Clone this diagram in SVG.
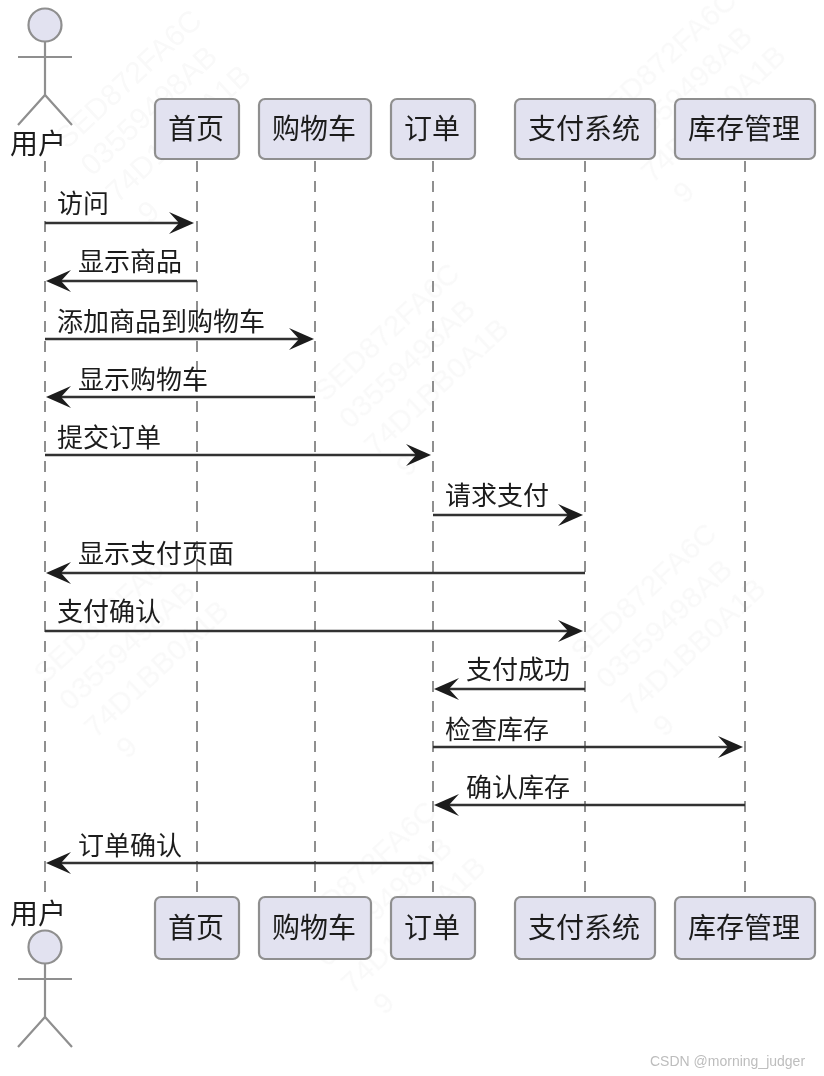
<svg xmlns="http://www.w3.org/2000/svg" width="824" height="1076" viewBox="0 0 824 1076">
<style>
text{font-family:"Noto Sans CJK SC","Liberation Sans",sans-serif}
.n{font-size:28px;fill:#1c1c1c;text-anchor:middle}
.m{font-size:26px;fill:#1c1c1c}
.box{fill:#e2e2f0;stroke:#8f8f8f;stroke-width:2.2}
.life{stroke:#8f8f8f;stroke-width:2;stroke-dasharray:11 9;fill:none}
.act{fill:#e2e2f0;stroke:#8f8f8f;stroke-width:2.2}
.lim{stroke:#8f8f8f;stroke-width:2.2;fill:none}
.c{stroke:#333;stroke-width:2.6;fill:none}
.wm{font-size:30px;fill:#f9f9f9;font-family:"Liberation Sans",sans-serif}
</style>
<defs>
<filter id="soft" x="0" y="0" width="824" height="1076" filterUnits="userSpaceOnUse" primitiveUnits="userSpaceOnUse"><feGaussianBlur stdDeviation="0.6"/></filter>
<path id="ah" d="M-25 -11L0 0L-25 11L-15 0Z" fill="#1c1c1c"/>
<path id="al" d="M25 -11L0 0L25 11L15 0Z" fill="#1c1c1c"/>
<g id="mark">
<text class="wm" x="0" y="0">SED872FA6C</text>
<text class="wm" x="0" y="37">03559498AB</text>
<text class="wm" x="0" y="74">74D1BB0A1B</text>
<text class="wm" x="9" y="111">9</text>
</g>
</defs>
<rect width="824" height="1076" fill="#fff"/>
<g filter="url(#soft)">
<g id="watermark">
<use href="#mark" transform="translate(67 150) rotate(-43)"/>
<use href="#mark" transform="translate(602 130) rotate(-43)"/>
<use href="#mark" transform="translate(325 403) rotate(-43)"/>
<use href="#mark" transform="translate(582 663) rotate(-43)"/>
<use href="#mark" transform="translate(45 685) rotate(-43)"/>
<use href="#mark" transform="translate(302 941) rotate(-43)"/>
</g>
<g id="lifelines">
<path class="life" d="M45 161V895"/>
<path class="life" d="M197 161V895"/>
<path class="life" d="M315 161V895"/>
<path class="life" d="M433 161V895"/>
<path class="life" d="M585 161V895"/>
<path class="life" d="M745 161V895"/>
</g>
<g id="connectors">
<path class="c" d="M45 223H187"/><use href="#ah" transform="translate(194 223)"/>
<path class="c" d="M197 281H53"/><use href="#al" transform="translate(46 281)"/>
<path class="c" d="M45 339H307"/><use href="#ah" transform="translate(314 339)"/>
<path class="c" d="M315 397H53"/><use href="#al" transform="translate(46 397)"/>
<path class="c" d="M45 455H424"/><use href="#ah" transform="translate(431 455)"/>
<path class="c" d="M433 515H576"/><use href="#ah" transform="translate(583 515)"/>
<path class="c" d="M585 573H53"/><use href="#al" transform="translate(46 573)"/>
<path class="c" d="M45 631H576"/><use href="#ah" transform="translate(583 631)"/>
<path class="c" d="M585 689H441"/><use href="#al" transform="translate(434 689)"/>
<path class="c" d="M433 747H736"/><use href="#ah" transform="translate(743 747)"/>
<path class="c" d="M745 805H441"/><use href="#al" transform="translate(434 805)"/>
<path class="c" d="M433 863H53"/><use href="#al" transform="translate(46 863)"/>
</g>
<g id="labels">
<text class="m" x="57" y="213">访问</text>
<text class="m" x="78" y="271">显示商品</text>
<text class="m" x="57" y="331">添加商品到购物车</text>
<text class="m" x="78" y="389">显示购物车</text>
<text class="m" x="57" y="447">提交订单</text>
<text class="m" x="445" y="505">请求支付</text>
<text class="m" x="78" y="563">显示支付页面</text>
<text class="m" x="57" y="621">支付确认</text>
<text class="m" x="466" y="679">支付成功</text>
<text class="m" x="445" y="739">检查库存</text>
<text class="m" x="466" y="797">确认库存</text>
<text class="m" x="78" y="855">订单确认</text>
</g>
<g id="actor-top">
<circle class="act" cx="45" cy="25" r="16.5"/>
<path class="lim" d="M45 41V95M18 57H72M18 125L45 95L72 125"/>
<text class="n" x="38" y="154">用户</text>
</g>
<g id="actor-bottom">
<text class="n" x="38" y="924">用户</text>
<circle class="act" cx="45" cy="947" r="16.5"/>
<path class="lim" d="M45 963V1017M18 979H72M18 1047L45 1017L72 1047"/>
</g>
<g id="node-home-top"><rect class="box" x="155" y="99" width="84" height="60" rx="6"/><text class="n" x="196" y="139">首页</text></g>
<g id="node-cart-top"><rect class="box" x="259" y="99" width="112" height="60" rx="6"/><text class="n" x="314" y="139">购物车</text></g>
<g id="node-order-top"><rect class="box" x="391" y="99" width="84" height="60" rx="6"/><text class="n" x="432" y="139">订单</text></g>
<g id="node-pay-top"><rect class="box" x="515" y="99" width="140" height="60" rx="6"/><text class="n" x="584" y="139">支付系统</text></g>
<g id="node-stock-top"><rect class="box" x="675" y="99" width="140" height="60" rx="6"/><text class="n" x="744" y="139">库存管理</text></g>
<g id="node-home-bottom"><rect class="box" x="155" y="897" width="84" height="62" rx="6"/><text class="n" x="196" y="938">首页</text></g>
<g id="node-cart-bottom"><rect class="box" x="259" y="897" width="112" height="62" rx="6"/><text class="n" x="314" y="938">购物车</text></g>
<g id="node-order-bottom"><rect class="box" x="391" y="897" width="84" height="62" rx="6"/><text class="n" x="432" y="938">订单</text></g>
<g id="node-pay-bottom"><rect class="box" x="515" y="897" width="140" height="62" rx="6"/><text class="n" x="584" y="938">支付系统</text></g>
<g id="node-stock-bottom"><rect class="box" x="675" y="897" width="140" height="62" rx="6"/><text class="n" x="744" y="938">库存管理</text></g>
<text x="650" y="1066" font-size="14" fill="#bdbdbd" style="font-family:'Liberation Sans',sans-serif">CSDN @morning_judger</text>
</g>
</svg>
